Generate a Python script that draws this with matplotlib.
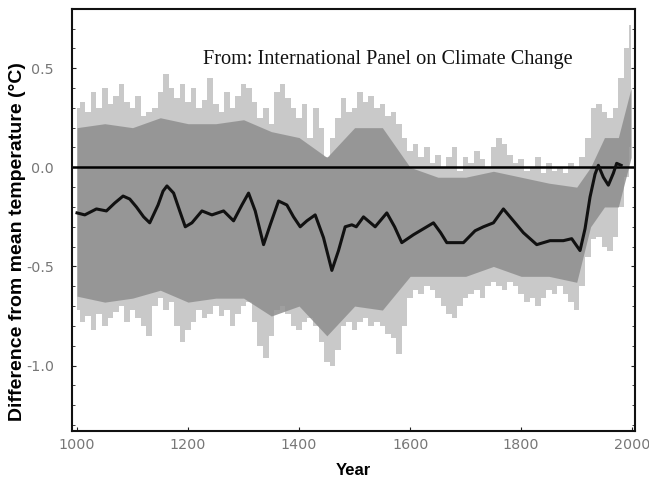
import matplotlib
matplotlib.use("Agg")
import matplotlib.pyplot as plt
import numpy as np

plt.rcParams['axes.unicode_minus'] = False

# smoothed (40-yr) reconstruction
smooth_years = [1000, 1014, 1035, 1053, 1068, 1083, 1095, 1107, 1120, 1131, 1146, 1155, 1162, 1174,
                1185, 1195, 1207, 1225, 1243, 1264, 1282, 1297, 1309, 1321, 1336, 1348, 1363, 1378,
                1390, 1402, 1414, 1429, 1444, 1459, 1471, 1483, 1495, 1503, 1516, 1537, 1558, 1572,
                1585, 1606, 1624, 1642, 1655, 1666, 1696, 1717, 1732, 1750, 1768, 1786, 1804, 1828,
                1852, 1876, 1891, 1906, 1915, 1924, 1933, 1939, 1948, 1957, 1966, 1972, 1980]
smooth_vals = [-0.23, -0.24, -0.21, -0.22, -0.18, -0.145, -0.16, -0.20, -0.25, -0.28, -0.19, -0.12, -0.094, -0.13,
               -0.22, -0.30, -0.28, -0.22, -0.24, -0.22, -0.27, -0.19, -0.13, -0.22, -0.39, -0.29, -0.17, -0.19,
               -0.25, -0.30, -0.27, -0.24, -0.355, -0.52, -0.42, -0.30, -0.29, -0.30, -0.25, -0.30, -0.23, -0.30,
               -0.38, -0.34, -0.31, -0.28, -0.33, -0.38, -0.38, -0.32, -0.30, -0.28, -0.21, -0.27, -0.33, -0.39,
               -0.37, -0.37, -0.36, -0.42, -0.31, -0.15, -0.035, 0.01, -0.05, -0.09, -0.03, 0.02, 0.01]

# outer uncertainty envelope (decadal)
band_years = list(range(1000, 1991, 10)) + [1998]
band_upper = [0.30, 0.33, 0.28, 0.38, 0.30, 0.40, 0.32, 0.36, 0.42, 0.33,
              0.30, 0.36, 0.26, 0.28, 0.30, 0.38, 0.47, 0.40, 0.35, 0.42,
              0.33, 0.40, 0.30, 0.34, 0.45, 0.32, 0.28, 0.38, 0.30, 0.36,
              0.42, 0.40, 0.33, 0.25, 0.30, 0.22, 0.38, 0.42, 0.35, 0.30,
              0.25, 0.32, 0.15, 0.30, 0.20, 0.05, 0.15, 0.25, 0.35, 0.28,
              0.30, 0.38, 0.33, 0.36, 0.30, 0.32, 0.26, 0.28, 0.22, 0.15,
              0.08, 0.12, 0.05, 0.10, 0.02, 0.06, 0.00, 0.05, 0.10, -0.02,
              0.05, 0.02, 0.08, 0.04, 0.00, 0.10, 0.15, 0.12, 0.06, 0.02,
              0.04, -0.02, 0.00, 0.05, -0.03, 0.02, -0.02, 0.00, -0.03, 0.02,
              0.00, 0.05, 0.15, 0.30, 0.32, 0.28, 0.25, 0.30, 0.45, 0.60, 0.72]
band_lower = [-0.72, -0.78, -0.75, -0.82, -0.74, -0.80, -0.76, -0.73, -0.70, -0.78,
              -0.72, -0.76, -0.80, -0.85, -0.70, -0.66, -0.72, -0.68, -0.80, -0.88,
              -0.82, -0.78, -0.72, -0.76, -0.74, -0.70, -0.75, -0.72, -0.80, -0.74,
              -0.70, -0.68, -0.78, -0.90, -0.96, -0.85, -0.72, -0.70, -0.74, -0.80,
              -0.82, -0.78, -0.76, -0.80, -0.88, -0.98, -1.00, -0.92, -0.80, -0.78,
              -0.82, -0.78, -0.76, -0.80, -0.78, -0.80, -0.84, -0.86, -0.94, -0.80,
              -0.66, -0.62, -0.64, -0.60, -0.62, -0.66, -0.70, -0.74, -0.76, -0.70,
              -0.66, -0.64, -0.62, -0.66, -0.60, -0.58, -0.60, -0.62, -0.58, -0.60,
              -0.64, -0.68, -0.66, -0.70, -0.66, -0.62, -0.64, -0.60, -0.64, -0.68,
              -0.72, -0.60, -0.45, -0.36, -0.35, -0.40, -0.42, -0.35, -0.20, -0.05, 0.10]

# dense core of annual values
core_years = [1000, 1050, 1100, 1150, 1200, 1250, 1300, 1350, 1400, 1450, 1500, 1550, 1600,
              1650, 1700, 1750, 1800, 1850, 1900, 1925, 1950, 1975, 1998]
core_upper = [0.20, 0.22, 0.20, 0.25, 0.22, 0.22, 0.24, 0.18, 0.15, 0.05, 0.20, 0.20, 0.00,
              -0.05, -0.05, -0.02, -0.05, -0.08, -0.10, 0.00, 0.15, 0.15, 0.40]
core_lower = [-0.65, -0.68, -0.66, -0.62, -0.68, -0.66, -0.66, -0.75, -0.70, -0.85, -0.70, -0.72, -0.55,
              -0.55, -0.55, -0.50, -0.55, -0.55, -0.58, -0.30, -0.20, -0.20, 0.05]

x_ticks = [1000, 1200, 1400, 1600, 1800, 2000]
y_ticks = [0.5, 0.0, -0.5, -1.0]
y_tick_labels = ["0.5", "0.0", "-0.5", "-1.0"]

fig = plt.figure(figsize=(6.49, 4.83), dpi=100)
ax = fig.add_axes([72/649, 1-431/483, (635-72)/649, (431-8.7)/483])

ax.fill_between(band_years, band_lower, band_upper, step='mid', color='#c9c9c9', linewidth=0)
ax.fill_between(core_years, core_lower, core_upper, color='#8e8e8e', linewidth=0, alpha=0.85)
ax.axhline(0.0, color='black', linewidth=1.8)
ax.plot(smooth_years, smooth_vals, color='#111111', linewidth=2.2)

ax.set_xlim(991, 2005)
ax.set_ylim(-1.33, 0.80)
ax.set_xticks(x_ticks)
ax.set_yticks(y_ticks)
ax.set_yticklabels(y_tick_labels)
ax.set_yticks(np.arange(-1.3, 0.81, 0.1), minor=True)
ax.tick_params(axis='both', which='both', direction='in', colors='#222222', labelcolor='#777777',
               labelsize=10.3)
ax.tick_params(axis='y', which='both', right=True, length=3, pad=13)
ax.tick_params(axis='y', which='minor', length=2)
ax.tick_params(axis='x', length=3, pad=5)
for s in ax.spines.values():
    s.set_linewidth(1.5)
    s.set_color('#111111')

ax.text((388-72)/563, 0.88, "From: International Panel on Climate Change", transform=ax.transAxes,
        ha='center', va='center', fontsize=14.6, family='Liberation Serif', color='#111111')
ax.set_xlabel("Year", fontsize=12, fontweight='bold', labelpad=8, family='Liberation Sans')
fig.text(18/649, 1-242/483, "Difference from mean temperature (\u00b0C)", rotation=90,
         ha='center', va='center', fontsize=14, fontweight='bold', family='Liberation Sans')

fig.savefig("out.png", dpi=100)
